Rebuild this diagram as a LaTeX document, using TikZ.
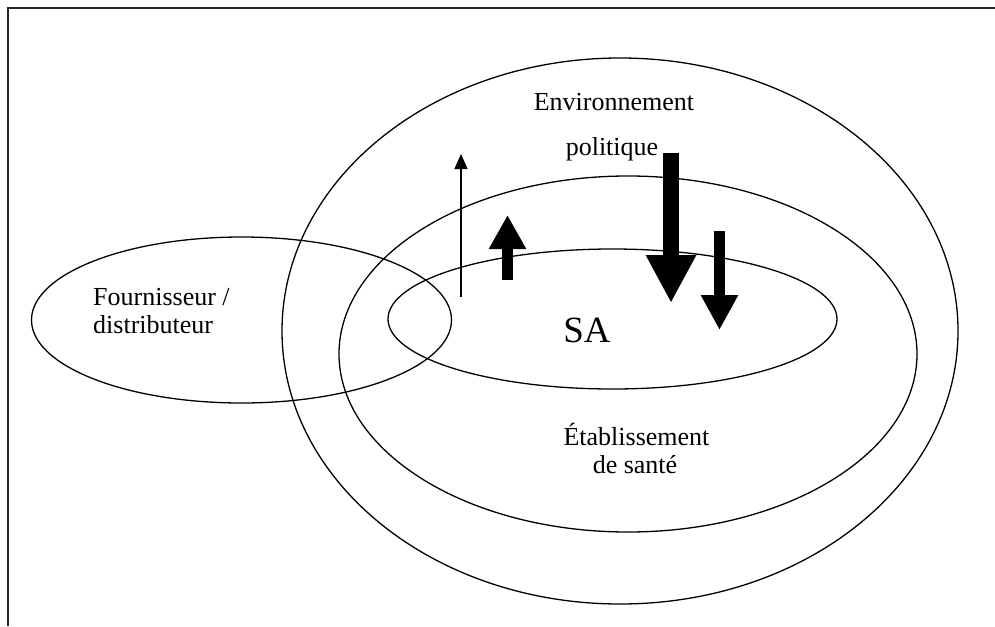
\documentclass[tikz,border=0pt]{standalone}
\usepackage{fontspec}
\setmainfont{Liberation Serif}
\usetikzlibrary{arrows.meta}
\begin{document}
\begin{tikzpicture}[x=1pt,y=-1pt,
  ring/.style={draw=black,line width=1.3pt},
  label/.style={inner sep=0pt,font=\fontsize{26}{28}\selectfont},
  flow/.style={line cap=butt,draw=black}]
\useasboundingbox (0,0) rectangle (995,626);
% page frame
\draw[line width=1.5pt,draw=black!85] (8,626) -- (8,8) -- (995,8);

% nested environments
\draw[ring] (620,331) ellipse [x radius=338pt, y radius=273pt];
\draw[ring] (628,354) ellipse [x radius=289pt, y radius=178pt];
\draw[ring] (612.5,319) ellipse [x radius=224.5pt, y radius=70pt];
\draw[ring] (241.5,320) ellipse [x radius=210pt, y radius=83pt];

% labels
\node[label,anchor=base] (env1) at (614,110) {Environnement};
\node[label,anchor=base] (env2) at (612,155) {politique};
\node[label,anchor=base] (eta1) at (636.5,445) {Établissement};
\node[label,anchor=base] (eta2) at (635,473) {de santé};
\node[label,anchor=base west] (four1) at (93,305) {Fournisseur /};
\node[label,anchor=base west] (four2) at (93,333) {distributeur};
\node[inner sep=0pt,anchor=base,font=\fontsize{37}{40}\selectfont] (sa) at (587,342) {SA};

% influence arrows
\coordinate (t0) at (461,297);   \coordinate (t1) at (461,154);
\coordinate (u0) at (507.5,280); \coordinate (u1) at (507.5,215);
\coordinate (b0) at (671,153);   \coordinate (b1) at (671,303);
\coordinate (s0) at (719.5,231); \coordinate (s1) at (719.5,330);

\draw[flow,line width=1.2pt,-{Triangle[width=13pt,length=15pt]}] (t0) -- (t1);
\draw[flow,line width=11pt,-{Triangle[width=35pt,length=34pt]}] (u0) -- (u1);
\draw[flow,line width=16pt,-{Triangle[width=47pt,length=48pt]}] (b0) -- (b1);
\draw[flow,line width=11pt,-{Triangle[width=35pt,length=35pt]}] (s0) -- (s1);
\end{tikzpicture}
\end{document}
